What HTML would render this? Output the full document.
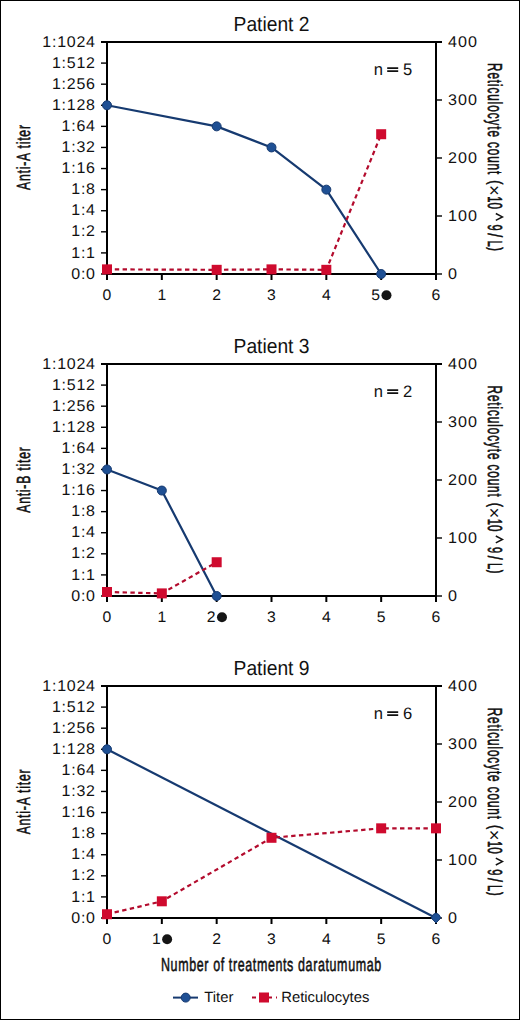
<!DOCTYPE html><html><head><meta charset="utf-8"><style>
html,body{margin:0;padding:0;background:#fff;}
body{width:520px;height:1020px;overflow:hidden;}
svg{display:block;font-family:"Liberation Sans",sans-serif;text-rendering:geometricPrecision;}
</style></head><body>
<svg width="520" height="1020" viewBox="0 0 520 1020">
<rect x="0" y="0" width="520" height="1020" fill="#fff"/>
<rect x="0.5" y="0.5" width="519" height="1019" fill="none" stroke="#000" stroke-width="1"/>
<text transform="translate(271.50,30.70) scale(0.938,1)" font-size="20.5" text-anchor="middle" fill="#111">Patient 2</text>
<path d="M101.0,42.0 H442.0 M107.0,42.0 V274.0 M436.0,42.0 V274.0 M107.0,274.0 H436.0" stroke="#000" stroke-width="2.0" fill="none"/>
<path d="M101.0,274.00 H107.0" stroke="#000" stroke-width="1.4"/>
<text transform="translate(95.77,278.60) scale(1.03,1)" font-size="15.5" letter-spacing="0.75" text-anchor="end" fill="#111">0:0</text>
<path d="M101.0,252.91 H107.0" stroke="#000" stroke-width="1.4"/>
<text transform="translate(95.77,257.51) scale(1.03,1)" font-size="15.5" letter-spacing="0.75" text-anchor="end" fill="#111">1:1</text>
<path d="M101.0,231.82 H107.0" stroke="#000" stroke-width="1.4"/>
<text transform="translate(95.77,236.42) scale(1.03,1)" font-size="15.5" letter-spacing="0.75" text-anchor="end" fill="#111">1:2</text>
<path d="M101.0,210.73 H107.0" stroke="#000" stroke-width="1.4"/>
<text transform="translate(95.77,215.33) scale(1.03,1)" font-size="15.5" letter-spacing="0.75" text-anchor="end" fill="#111">1:4</text>
<path d="M101.0,189.64 H107.0" stroke="#000" stroke-width="1.4"/>
<text transform="translate(95.77,194.24) scale(1.03,1)" font-size="15.5" letter-spacing="0.75" text-anchor="end" fill="#111">1:8</text>
<path d="M101.0,168.55 H107.0" stroke="#000" stroke-width="1.4"/>
<text transform="translate(95.77,173.15) scale(1.03,1)" font-size="15.5" letter-spacing="0.75" text-anchor="end" fill="#111">1:16</text>
<path d="M101.0,147.45 H107.0" stroke="#000" stroke-width="1.4"/>
<text transform="translate(95.77,152.05) scale(1.03,1)" font-size="15.5" letter-spacing="0.75" text-anchor="end" fill="#111">1:32</text>
<path d="M101.0,126.36 H107.0" stroke="#000" stroke-width="1.4"/>
<text transform="translate(95.77,130.96) scale(1.03,1)" font-size="15.5" letter-spacing="0.75" text-anchor="end" fill="#111">1:64</text>
<path d="M101.0,105.27 H107.0" stroke="#000" stroke-width="1.4"/>
<text transform="translate(95.77,109.87) scale(1.03,1)" font-size="15.5" letter-spacing="0.75" text-anchor="end" fill="#111">1:128</text>
<path d="M101.0,84.18 H107.0" stroke="#000" stroke-width="1.4"/>
<text transform="translate(95.77,88.78) scale(1.03,1)" font-size="15.5" letter-spacing="0.75" text-anchor="end" fill="#111">1:256</text>
<path d="M101.0,63.09 H107.0" stroke="#000" stroke-width="1.4"/>
<text transform="translate(95.77,67.69) scale(1.03,1)" font-size="15.5" letter-spacing="0.75" text-anchor="end" fill="#111">1:512</text>
<path d="M101.0,42.00 H107.0" stroke="#000" stroke-width="1.4"/>
<text transform="translate(95.77,46.60) scale(1.03,1)" font-size="15.5" letter-spacing="0.75" text-anchor="end" fill="#111">1:1024</text>
<path d="M436.0,274.00 H442.0" stroke="#000" stroke-width="1.4"/>
<text transform="translate(447.95,278.60) scale(1.04,1)" font-size="15.5" letter-spacing="1.0" fill="#111">0</text>
<path d="M436.0,216.00 H442.0" stroke="#000" stroke-width="1.4"/>
<text transform="translate(447.95,220.60) scale(1.04,1)" font-size="15.5" letter-spacing="1.0" fill="#111">100</text>
<path d="M436.0,158.00 H442.0" stroke="#000" stroke-width="1.4"/>
<text transform="translate(447.95,162.60) scale(1.04,1)" font-size="15.5" letter-spacing="1.0" fill="#111">200</text>
<path d="M436.0,100.00 H442.0" stroke="#000" stroke-width="1.4"/>
<text transform="translate(447.95,104.60) scale(1.04,1)" font-size="15.5" letter-spacing="1.0" fill="#111">300</text>
<path d="M436.0,42.00 H442.0" stroke="#000" stroke-width="1.4"/>
<text transform="translate(447.95,46.60) scale(1.04,1)" font-size="15.5" letter-spacing="1.0" fill="#111">400</text>
<path d="M107.00,274.0 V280.0" stroke="#000" stroke-width="2.0"/>
<text transform="translate(107.00,300.35) scale(1.03,1)" font-size="15.3" text-anchor="middle" fill="#111">0</text>
<path d="M161.83,274.0 V280.0" stroke="#000" stroke-width="2.0"/>
<text transform="translate(161.83,300.35) scale(1.03,1)" font-size="15.3" text-anchor="middle" fill="#111">1</text>
<path d="M216.67,274.0 V280.0" stroke="#000" stroke-width="2.0"/>
<text transform="translate(216.67,300.35) scale(1.03,1)" font-size="15.3" text-anchor="middle" fill="#111">2</text>
<path d="M271.50,274.0 V280.0" stroke="#000" stroke-width="2.0"/>
<text transform="translate(271.50,300.35) scale(1.03,1)" font-size="15.3" text-anchor="middle" fill="#111">3</text>
<path d="M326.33,274.0 V280.0" stroke="#000" stroke-width="2.0"/>
<text transform="translate(326.33,300.35) scale(1.03,1)" font-size="15.3" text-anchor="middle" fill="#111">4</text>
<path d="M381.17,274.0 V280.0" stroke="#000" stroke-width="2.0"/>
<text transform="translate(375.67,300.35) scale(1.03,1)" font-size="15.3" text-anchor="middle" fill="#111">5</text>
<circle cx="386.47" cy="295.30" r="5" fill="#151515"/>
<path d="M436.00,274.0 V280.0" stroke="#000" stroke-width="2.0"/>
<text transform="translate(436.00,300.35) scale(1.03,1)" font-size="15.3" text-anchor="middle" fill="#111">6</text>
<text x="373.7" y="74.60" font-size="16.6" fill="#111">n</text>
<path d="M387.2,68.15 H398.2 M387.2,71.10 H398.2" stroke="#111" stroke-width="1.6"/>
<text x="402.9" y="74.60" font-size="16.6" fill="#111">5</text>
<text transform="translate(30.45,157.10) rotate(-90) scale(0.64,1)" font-size="19.0" text-anchor="middle" fill="#111" stroke="#111" stroke-width="0.562"  letter-spacing="1.25">Anti-A titer</text>
<text transform="translate(488.30,63.04) rotate(90) scale(0.58,1)" font-size="20.2" text-anchor="start" fill="#111" stroke="#111" stroke-width="0.621"  letter-spacing="1.58">Reticulocyte count</text>
<text transform="translate(489.50,180.31) rotate(90) scale(0.71,1)" font-size="18.0" text-anchor="start" fill="#111" stroke="#111" stroke-width="0.507" >(</text>
<text transform="translate(488.30,185.00) rotate(90)" font-size="18.5" fill="#111">×</text>
<text transform="translate(488.30,196.30) rotate(90) scale(0.55,1)" font-size="20.2" text-anchor="start" fill="#111" stroke="#111" stroke-width="0.655" >1</text>
<text transform="translate(488.30,202.55) rotate(90) scale(0.57,1)" font-size="20.2" text-anchor="start" fill="#111" stroke="#111" stroke-width="0.632" >0</text>
<path d="M495.80,213.50 L502.40,216.90 L495.80,220.30" fill="none" stroke="#111" stroke-width="1.5"/>
<text transform="translate(488.30,224.48) rotate(90) scale(0.547,1)" font-size="20.2" text-anchor="start" fill="#111" stroke="#111" stroke-width="0.658" >9</text>
<text transform="translate(488.30,233.20) rotate(90) scale(0.71,1)" font-size="20.2" text-anchor="start" fill="#111" stroke="#111" stroke-width="0.507" >/</text>
<text transform="translate(488.30,240.40) rotate(90) scale(0.54,1)" font-size="20.2" text-anchor="start" fill="#111" stroke="#111" stroke-width="0.667" >L</text>
<text transform="translate(489.50,247.24) rotate(90) scale(0.61,1)" font-size="18.0" text-anchor="start" fill="#111" stroke="#111" stroke-width="0.59" >)</text>
<polyline points="107.00,105.27 216.67,126.36 271.50,147.45 326.33,189.64 381.17,274.00" fill="none" stroke="#163a70" stroke-width="2.2" stroke-linejoin="round"/>
<polyline points="107.00,269.36 216.67,269.82 271.50,269.36 326.33,269.82 381.17,134.22" fill="none" stroke="#b30b2d" stroke-width="2.2" stroke-dasharray="4.4 3.4"/>
<circle cx="107.00" cy="105.27" r="4.5" fill="#1f5094" stroke="#163a70" stroke-width="1"/>
<circle cx="216.67" cy="126.36" r="4.5" fill="#1f5094" stroke="#163a70" stroke-width="1"/>
<circle cx="271.50" cy="147.45" r="4.5" fill="#1f5094" stroke="#163a70" stroke-width="1"/>
<circle cx="326.33" cy="189.64" r="4.5" fill="#1f5094" stroke="#163a70" stroke-width="1"/>
<circle cx="381.17" cy="274.00" r="4.5" fill="#1f5094" stroke="#163a70" stroke-width="1"/>
<rect x="102.00" y="264.36" width="10" height="10" fill="#cf0a2e"/>
<rect x="211.67" y="264.82" width="10" height="10" fill="#cf0a2e"/>
<rect x="266.50" y="264.36" width="10" height="10" fill="#cf0a2e"/>
<rect x="321.33" y="264.82" width="10" height="10" fill="#cf0a2e"/>
<rect x="376.17" y="129.22" width="10" height="10" fill="#cf0a2e"/>
<text transform="translate(271.50,352.70) scale(0.938,1)" font-size="20.5" text-anchor="middle" fill="#111">Patient 3</text>
<path d="M101.0,364.0 H442.0 M107.0,364.0 V596.0 M436.0,364.0 V596.0 M107.0,596.0 H436.0" stroke="#000" stroke-width="2.0" fill="none"/>
<path d="M101.0,596.00 H107.0" stroke="#000" stroke-width="1.4"/>
<text transform="translate(95.77,600.60) scale(1.03,1)" font-size="15.5" letter-spacing="0.75" text-anchor="end" fill="#111">0:0</text>
<path d="M101.0,574.91 H107.0" stroke="#000" stroke-width="1.4"/>
<text transform="translate(95.77,579.51) scale(1.03,1)" font-size="15.5" letter-spacing="0.75" text-anchor="end" fill="#111">1:1</text>
<path d="M101.0,553.82 H107.0" stroke="#000" stroke-width="1.4"/>
<text transform="translate(95.77,558.42) scale(1.03,1)" font-size="15.5" letter-spacing="0.75" text-anchor="end" fill="#111">1:2</text>
<path d="M101.0,532.73 H107.0" stroke="#000" stroke-width="1.4"/>
<text transform="translate(95.77,537.33) scale(1.03,1)" font-size="15.5" letter-spacing="0.75" text-anchor="end" fill="#111">1:4</text>
<path d="M101.0,511.64 H107.0" stroke="#000" stroke-width="1.4"/>
<text transform="translate(95.77,516.24) scale(1.03,1)" font-size="15.5" letter-spacing="0.75" text-anchor="end" fill="#111">1:8</text>
<path d="M101.0,490.55 H107.0" stroke="#000" stroke-width="1.4"/>
<text transform="translate(95.77,495.15) scale(1.03,1)" font-size="15.5" letter-spacing="0.75" text-anchor="end" fill="#111">1:16</text>
<path d="M101.0,469.45 H107.0" stroke="#000" stroke-width="1.4"/>
<text transform="translate(95.77,474.05) scale(1.03,1)" font-size="15.5" letter-spacing="0.75" text-anchor="end" fill="#111">1:32</text>
<path d="M101.0,448.36 H107.0" stroke="#000" stroke-width="1.4"/>
<text transform="translate(95.77,452.96) scale(1.03,1)" font-size="15.5" letter-spacing="0.75" text-anchor="end" fill="#111">1:64</text>
<path d="M101.0,427.27 H107.0" stroke="#000" stroke-width="1.4"/>
<text transform="translate(95.77,431.87) scale(1.03,1)" font-size="15.5" letter-spacing="0.75" text-anchor="end" fill="#111">1:128</text>
<path d="M101.0,406.18 H107.0" stroke="#000" stroke-width="1.4"/>
<text transform="translate(95.77,410.78) scale(1.03,1)" font-size="15.5" letter-spacing="0.75" text-anchor="end" fill="#111">1:256</text>
<path d="M101.0,385.09 H107.0" stroke="#000" stroke-width="1.4"/>
<text transform="translate(95.77,389.69) scale(1.03,1)" font-size="15.5" letter-spacing="0.75" text-anchor="end" fill="#111">1:512</text>
<path d="M101.0,364.00 H107.0" stroke="#000" stroke-width="1.4"/>
<text transform="translate(95.77,368.60) scale(1.03,1)" font-size="15.5" letter-spacing="0.75" text-anchor="end" fill="#111">1:1024</text>
<path d="M436.0,596.00 H442.0" stroke="#000" stroke-width="1.4"/>
<text transform="translate(447.95,600.60) scale(1.04,1)" font-size="15.5" letter-spacing="1.0" fill="#111">0</text>
<path d="M436.0,538.00 H442.0" stroke="#000" stroke-width="1.4"/>
<text transform="translate(447.95,542.60) scale(1.04,1)" font-size="15.5" letter-spacing="1.0" fill="#111">100</text>
<path d="M436.0,480.00 H442.0" stroke="#000" stroke-width="1.4"/>
<text transform="translate(447.95,484.60) scale(1.04,1)" font-size="15.5" letter-spacing="1.0" fill="#111">200</text>
<path d="M436.0,422.00 H442.0" stroke="#000" stroke-width="1.4"/>
<text transform="translate(447.95,426.60) scale(1.04,1)" font-size="15.5" letter-spacing="1.0" fill="#111">300</text>
<path d="M436.0,364.00 H442.0" stroke="#000" stroke-width="1.4"/>
<text transform="translate(447.95,368.60) scale(1.04,1)" font-size="15.5" letter-spacing="1.0" fill="#111">400</text>
<path d="M107.00,596.0 V602.0" stroke="#000" stroke-width="2.0"/>
<text transform="translate(107.00,622.35) scale(1.03,1)" font-size="15.3" text-anchor="middle" fill="#111">0</text>
<path d="M161.83,596.0 V602.0" stroke="#000" stroke-width="2.0"/>
<text transform="translate(161.83,622.35) scale(1.03,1)" font-size="15.3" text-anchor="middle" fill="#111">1</text>
<path d="M216.67,596.0 V602.0" stroke="#000" stroke-width="2.0"/>
<text transform="translate(211.17,622.35) scale(1.03,1)" font-size="15.3" text-anchor="middle" fill="#111">2</text>
<circle cx="221.97" cy="617.30" r="5" fill="#151515"/>
<path d="M271.50,596.0 V602.0" stroke="#000" stroke-width="2.0"/>
<text transform="translate(271.50,622.35) scale(1.03,1)" font-size="15.3" text-anchor="middle" fill="#111">3</text>
<path d="M326.33,596.0 V602.0" stroke="#000" stroke-width="2.0"/>
<text transform="translate(326.33,622.35) scale(1.03,1)" font-size="15.3" text-anchor="middle" fill="#111">4</text>
<path d="M381.17,596.0 V602.0" stroke="#000" stroke-width="2.0"/>
<text transform="translate(381.17,622.35) scale(1.03,1)" font-size="15.3" text-anchor="middle" fill="#111">5</text>
<path d="M436.00,596.0 V602.0" stroke="#000" stroke-width="2.0"/>
<text transform="translate(436.00,622.35) scale(1.03,1)" font-size="15.3" text-anchor="middle" fill="#111">6</text>
<text x="373.7" y="396.60" font-size="16.6" fill="#111">n</text>
<path d="M387.2,390.15 H398.2 M387.2,393.10 H398.2" stroke="#111" stroke-width="1.6"/>
<text x="402.9" y="396.60" font-size="16.6" fill="#111">2</text>
<text transform="translate(30.45,479.60) rotate(-90) scale(0.64,1)" font-size="19.0" text-anchor="middle" fill="#111" stroke="#111" stroke-width="0.562"  letter-spacing="1.25">Anti-B titer</text>
<text transform="translate(488.30,385.54) rotate(90) scale(0.58,1)" font-size="20.2" text-anchor="start" fill="#111" stroke="#111" stroke-width="0.621"  letter-spacing="1.58">Reticulocyte count</text>
<text transform="translate(489.50,502.81) rotate(90) scale(0.71,1)" font-size="18.0" text-anchor="start" fill="#111" stroke="#111" stroke-width="0.507" >(</text>
<text transform="translate(488.30,507.50) rotate(90)" font-size="18.5" fill="#111">×</text>
<text transform="translate(488.30,518.80) rotate(90) scale(0.55,1)" font-size="20.2" text-anchor="start" fill="#111" stroke="#111" stroke-width="0.655" >1</text>
<text transform="translate(488.30,525.05) rotate(90) scale(0.57,1)" font-size="20.2" text-anchor="start" fill="#111" stroke="#111" stroke-width="0.632" >0</text>
<path d="M495.80,536.00 L502.40,539.40 L495.80,542.80" fill="none" stroke="#111" stroke-width="1.5"/>
<text transform="translate(488.30,546.98) rotate(90) scale(0.547,1)" font-size="20.2" text-anchor="start" fill="#111" stroke="#111" stroke-width="0.658" >9</text>
<text transform="translate(488.30,555.70) rotate(90) scale(0.71,1)" font-size="20.2" text-anchor="start" fill="#111" stroke="#111" stroke-width="0.507" >/</text>
<text transform="translate(488.30,562.90) rotate(90) scale(0.54,1)" font-size="20.2" text-anchor="start" fill="#111" stroke="#111" stroke-width="0.667" >L</text>
<text transform="translate(489.50,569.74) rotate(90) scale(0.61,1)" font-size="18.0" text-anchor="start" fill="#111" stroke="#111" stroke-width="0.59" >)</text>
<polyline points="107.00,469.45 161.83,490.55 216.67,596.00" fill="none" stroke="#163a70" stroke-width="2.2" stroke-linejoin="round"/>
<polyline points="107.00,592.00 161.83,593.39 216.67,562.24" fill="none" stroke="#b30b2d" stroke-width="2.2" stroke-dasharray="4.4 3.4"/>
<circle cx="107.00" cy="469.45" r="4.5" fill="#1f5094" stroke="#163a70" stroke-width="1"/>
<circle cx="161.83" cy="490.55" r="4.5" fill="#1f5094" stroke="#163a70" stroke-width="1"/>
<circle cx="216.67" cy="596.00" r="4.5" fill="#1f5094" stroke="#163a70" stroke-width="1"/>
<rect x="102.00" y="587.00" width="10" height="10" fill="#cf0a2e"/>
<rect x="156.83" y="588.39" width="10" height="10" fill="#cf0a2e"/>
<rect x="211.67" y="557.24" width="10" height="10" fill="#cf0a2e"/>
<text transform="translate(271.50,674.70) scale(0.938,1)" font-size="20.5" text-anchor="middle" fill="#111">Patient 9</text>
<path d="M101.0,686.0 H442.0 M107.0,686.0 V918.0 M436.0,686.0 V918.0 M107.0,918.0 H436.0" stroke="#000" stroke-width="2.0" fill="none"/>
<path d="M101.0,918.00 H107.0" stroke="#000" stroke-width="1.4"/>
<text transform="translate(95.77,922.60) scale(1.03,1)" font-size="15.5" letter-spacing="0.75" text-anchor="end" fill="#111">0:0</text>
<path d="M101.0,896.91 H107.0" stroke="#000" stroke-width="1.4"/>
<text transform="translate(95.77,901.51) scale(1.03,1)" font-size="15.5" letter-spacing="0.75" text-anchor="end" fill="#111">1:1</text>
<path d="M101.0,875.82 H107.0" stroke="#000" stroke-width="1.4"/>
<text transform="translate(95.77,880.42) scale(1.03,1)" font-size="15.5" letter-spacing="0.75" text-anchor="end" fill="#111">1:2</text>
<path d="M101.0,854.73 H107.0" stroke="#000" stroke-width="1.4"/>
<text transform="translate(95.77,859.33) scale(1.03,1)" font-size="15.5" letter-spacing="0.75" text-anchor="end" fill="#111">1:4</text>
<path d="M101.0,833.64 H107.0" stroke="#000" stroke-width="1.4"/>
<text transform="translate(95.77,838.24) scale(1.03,1)" font-size="15.5" letter-spacing="0.75" text-anchor="end" fill="#111">1:8</text>
<path d="M101.0,812.55 H107.0" stroke="#000" stroke-width="1.4"/>
<text transform="translate(95.77,817.15) scale(1.03,1)" font-size="15.5" letter-spacing="0.75" text-anchor="end" fill="#111">1:16</text>
<path d="M101.0,791.45 H107.0" stroke="#000" stroke-width="1.4"/>
<text transform="translate(95.77,796.05) scale(1.03,1)" font-size="15.5" letter-spacing="0.75" text-anchor="end" fill="#111">1:32</text>
<path d="M101.0,770.36 H107.0" stroke="#000" stroke-width="1.4"/>
<text transform="translate(95.77,774.96) scale(1.03,1)" font-size="15.5" letter-spacing="0.75" text-anchor="end" fill="#111">1:64</text>
<path d="M101.0,749.27 H107.0" stroke="#000" stroke-width="1.4"/>
<text transform="translate(95.77,753.87) scale(1.03,1)" font-size="15.5" letter-spacing="0.75" text-anchor="end" fill="#111">1:128</text>
<path d="M101.0,728.18 H107.0" stroke="#000" stroke-width="1.4"/>
<text transform="translate(95.77,732.78) scale(1.03,1)" font-size="15.5" letter-spacing="0.75" text-anchor="end" fill="#111">1:256</text>
<path d="M101.0,707.09 H107.0" stroke="#000" stroke-width="1.4"/>
<text transform="translate(95.77,711.69) scale(1.03,1)" font-size="15.5" letter-spacing="0.75" text-anchor="end" fill="#111">1:512</text>
<path d="M101.0,686.00 H107.0" stroke="#000" stroke-width="1.4"/>
<text transform="translate(95.77,690.60) scale(1.03,1)" font-size="15.5" letter-spacing="0.75" text-anchor="end" fill="#111">1:1024</text>
<path d="M436.0,918.00 H442.0" stroke="#000" stroke-width="1.4"/>
<text transform="translate(447.95,922.60) scale(1.04,1)" font-size="15.5" letter-spacing="1.0" fill="#111">0</text>
<path d="M436.0,860.00 H442.0" stroke="#000" stroke-width="1.4"/>
<text transform="translate(447.95,864.60) scale(1.04,1)" font-size="15.5" letter-spacing="1.0" fill="#111">100</text>
<path d="M436.0,802.00 H442.0" stroke="#000" stroke-width="1.4"/>
<text transform="translate(447.95,806.60) scale(1.04,1)" font-size="15.5" letter-spacing="1.0" fill="#111">200</text>
<path d="M436.0,744.00 H442.0" stroke="#000" stroke-width="1.4"/>
<text transform="translate(447.95,748.60) scale(1.04,1)" font-size="15.5" letter-spacing="1.0" fill="#111">300</text>
<path d="M436.0,686.00 H442.0" stroke="#000" stroke-width="1.4"/>
<text transform="translate(447.95,690.60) scale(1.04,1)" font-size="15.5" letter-spacing="1.0" fill="#111">400</text>
<path d="M107.00,918.0 V924.0" stroke="#000" stroke-width="2.0"/>
<text transform="translate(107.00,944.35) scale(1.03,1)" font-size="15.3" text-anchor="middle" fill="#111">0</text>
<path d="M161.83,918.0 V924.0" stroke="#000" stroke-width="2.0"/>
<text transform="translate(156.33,944.35) scale(1.03,1)" font-size="15.3" text-anchor="middle" fill="#111">1</text>
<circle cx="167.13" cy="939.30" r="5" fill="#151515"/>
<path d="M216.67,918.0 V924.0" stroke="#000" stroke-width="2.0"/>
<text transform="translate(216.67,944.35) scale(1.03,1)" font-size="15.3" text-anchor="middle" fill="#111">2</text>
<path d="M271.50,918.0 V924.0" stroke="#000" stroke-width="2.0"/>
<text transform="translate(271.50,944.35) scale(1.03,1)" font-size="15.3" text-anchor="middle" fill="#111">3</text>
<path d="M326.33,918.0 V924.0" stroke="#000" stroke-width="2.0"/>
<text transform="translate(326.33,944.35) scale(1.03,1)" font-size="15.3" text-anchor="middle" fill="#111">4</text>
<path d="M381.17,918.0 V924.0" stroke="#000" stroke-width="2.0"/>
<text transform="translate(381.17,944.35) scale(1.03,1)" font-size="15.3" text-anchor="middle" fill="#111">5</text>
<path d="M436.00,918.0 V924.0" stroke="#000" stroke-width="2.0"/>
<text transform="translate(436.00,944.35) scale(1.03,1)" font-size="15.3" text-anchor="middle" fill="#111">6</text>
<text x="373.7" y="718.60" font-size="16.6" fill="#111">n</text>
<path d="M387.2,712.15 H398.2 M387.2,715.10 H398.2" stroke="#111" stroke-width="1.6"/>
<text x="402.9" y="718.60" font-size="16.6" fill="#111">6</text>
<text transform="translate(30.45,801.50) rotate(-90) scale(0.64,1)" font-size="19.0" text-anchor="middle" fill="#111" stroke="#111" stroke-width="0.562"  letter-spacing="1.25">Anti-A titer</text>
<text transform="translate(488.30,707.74) rotate(90) scale(0.58,1)" font-size="20.2" text-anchor="start" fill="#111" stroke="#111" stroke-width="0.621"  letter-spacing="1.58">Reticulocyte count</text>
<text transform="translate(489.50,825.01) rotate(90) scale(0.71,1)" font-size="18.0" text-anchor="start" fill="#111" stroke="#111" stroke-width="0.507" >(</text>
<text transform="translate(488.30,829.70) rotate(90)" font-size="18.5" fill="#111">×</text>
<text transform="translate(488.30,841.00) rotate(90) scale(0.55,1)" font-size="20.2" text-anchor="start" fill="#111" stroke="#111" stroke-width="0.655" >1</text>
<text transform="translate(488.30,847.25) rotate(90) scale(0.57,1)" font-size="20.2" text-anchor="start" fill="#111" stroke="#111" stroke-width="0.632" >0</text>
<path d="M495.80,858.20 L502.40,861.60 L495.80,865.00" fill="none" stroke="#111" stroke-width="1.5"/>
<text transform="translate(488.30,869.18) rotate(90) scale(0.547,1)" font-size="20.2" text-anchor="start" fill="#111" stroke="#111" stroke-width="0.658" >9</text>
<text transform="translate(488.30,877.90) rotate(90) scale(0.71,1)" font-size="20.2" text-anchor="start" fill="#111" stroke="#111" stroke-width="0.507" >/</text>
<text transform="translate(488.30,885.10) rotate(90) scale(0.54,1)" font-size="20.2" text-anchor="start" fill="#111" stroke="#111" stroke-width="0.667" >L</text>
<text transform="translate(489.50,891.94) rotate(90) scale(0.61,1)" font-size="18.0" text-anchor="start" fill="#111" stroke="#111" stroke-width="0.59" >)</text>
<polyline points="107.00,749.27 436.00,918.00" fill="none" stroke="#163a70" stroke-width="2.2" stroke-linejoin="round"/>
<polyline points="107.00,914.23 161.83,901.30 271.50,837.79 381.17,828.33 436.00,828.33" fill="none" stroke="#b30b2d" stroke-width="2.2" stroke-dasharray="4.4 3.4"/>
<circle cx="107.00" cy="749.27" r="4.5" fill="#1f5094" stroke="#163a70" stroke-width="1"/>
<path d="M431.20,918.00 Q432.80,913.40 436.00,913.10 Q439.20,913.40 440.80,918.00 L436.00,923.00 Z" fill="#1f5094" stroke="#163a70" stroke-width="1" stroke-linejoin="round"/>
<rect x="102.00" y="909.23" width="10" height="10" fill="#cf0a2e"/>
<rect x="156.83" y="896.30" width="10" height="10" fill="#cf0a2e"/>
<rect x="266.50" y="832.79" width="10" height="10" fill="#cf0a2e"/>
<rect x="376.17" y="823.33" width="10" height="10" fill="#cf0a2e"/>
<rect x="431.00" y="823.33" width="10" height="10" fill="#cf0a2e"/>
<text transform="translate(271.39,971.00) rotate(0) scale(0.66,1)" font-size="18.9" text-anchor="middle" fill="#111" stroke="#111" stroke-width="0.545"  letter-spacing="0.94">Number of treatments daratumumab</text>
<path d="M173,997.6 H198" stroke="#163a70" stroke-width="2"/>
<circle cx="185.7" cy="997.6" r="4.5" fill="#1f5094" stroke="#163a70" stroke-width="1"/>
<text x="204.3" y="1002.1" font-size="14.8" fill="#111">Titer</text>
<path d="M252,997.6 H277" stroke="#b30b2d" stroke-width="2" stroke-dasharray="4 4"/>
<rect x="259" y="992.5" width="10" height="10" fill="#cf0a2e"/>
<text x="281.3" y="1002.1" font-size="14.8" fill="#111">Reticulocytes</text>
</svg></body></html>
